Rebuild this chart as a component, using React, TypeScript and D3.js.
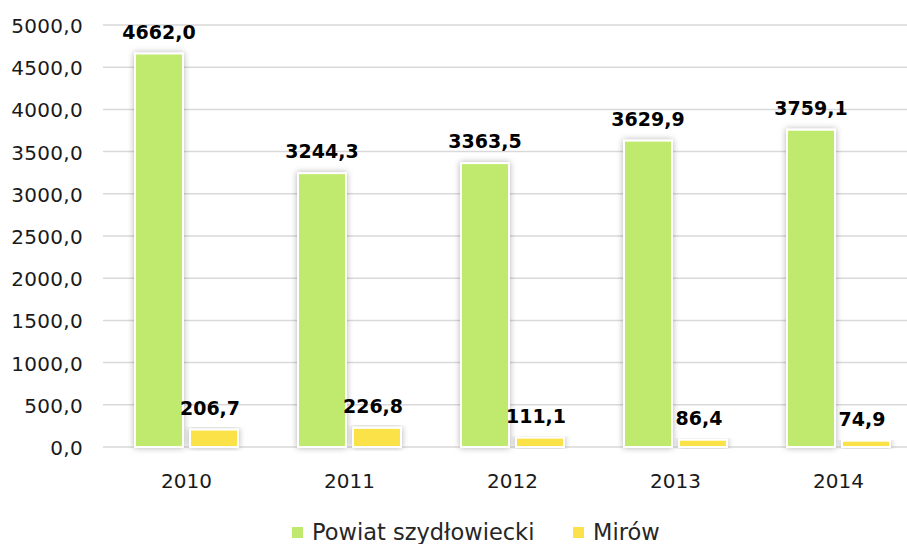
import * as d3 from 'd3';
import React, { useEffect, useRef } from 'react';

const years = ['2010', '2011', '2012', '2013', '2014'];
const powiat = [4662.0, 3244.3, 3363.5, 3629.9, 3759.1];
const mirow = [206.7, 226.8, 111.1, 86.4, 74.9];
const seriesNames = ['Powiat szydłowiecki', 'Mirów'];
const colors = ['#C0EA6E', '#FCE24A'];
const yTicks = [0, 500, 1000, 1500, 2000, 2500, 3000, 3500, 4000, 4500, 5000];

const width = 907;
const height = 544;
const font = '"DejaVu Sans", sans-serif';

const fmt = (v: number) => v.toFixed(1).replace('.', ',');

export default function App() {
  const ref = useRef<SVGSVGElement>(null);

  useEffect(() => {
    const svg = d3.select(ref.current);
    svg.selectAll('*').remove();

    const defs = svg.append('defs');
    const f = defs.append('filter').attr('id', 'shadow').attr('x', '-30%').attr('y', '-10%').attr('width', '160%').attr('height', '130%');
    f.append('feDropShadow').attr('dx', 0).attr('dy', 0).attr('stdDeviation', 3).attr('flood-color', '#000').attr('flood-opacity', 0.3);

    const x = d3.scaleBand().domain(years).range([105, 920]).paddingInner(0).paddingOuter(0);
    const y = d3.scaleLinear().domain([0, 5000]).range([447, 25]);

    // gridlines
    svg.append('g')
      .selectAll('line')
      .data(yTicks)
      .enter()
      .append('line')
      .attr('x1', 103)
      .attr('x2', width)
      .attr('y1', (d) => y(d))
      .attr('y2', (d) => y(d))
      .attr('stroke', '#D9D9D9')
      .attr('stroke-width', 1.5);

    // y labels
    svg.append('g')
      .selectAll('text')
      .data(yTicks)
      .enter()
      .append('text')
      .attr('x', 83)
      .attr('y', (d) => y(d) + 1)
      .attr('dy', '0.35em')
      .attr('text-anchor', 'end')
      .attr('font-family', font)
      .attr('font-size', 20)
      .attr('letter-spacing', 0.3)
      .attr('fill', '#1a1a1a')
      .text((d) => fmt(d));

    const barW = 48;
    const gap = 7;
    const groupW = barW * 2 + gap;
    const series = [powiat, mirow];

    series.forEach((vals, si) => {
      const g = svg.append('g');
      const bx = (i: number) => x(years[i])! + (x.bandwidth() - groupW) / 2 + si * (barW + gap);
      g.selectAll('rect')
        .data(vals)
        .enter()
        .append('rect')
        .attr('x', (d, i) => bx(i))
        .attr('y', (d) => y(d))
        .attr('width', barW)
        .attr('height', (d) => y(0) - y(d))
        .attr('fill', colors[si])
        .attr('stroke', '#fff')
        .attr('stroke-width', 2)
        .attr('filter', 'url(#shadow)');

      g.selectAll('text')
        .data(vals)
        .enter()
        .append('text')
        .attr('x', (d, i) => bx(i) + barW / 2 - (si === 1 ? 4 : 0))
        .attr('y', (d) => y(d) - 15)
        .attr('text-anchor', 'middle')
        .attr('font-family', font)
        .attr('font-weight', 'bold')
        .attr('font-size', 19)
        .attr('fill', '#000')
        .text((d) => fmt(d));
    });

    // x labels
    svg.append('g')
      .selectAll('text')
      .data(years)
      .enter()
      .append('text')
      .attr('x', (d) => x(d)! + x.bandwidth() / 2)
      .attr('y', 488)
      .attr('text-anchor', 'middle')
      .attr('font-family', font)
      .attr('font-size', 20)
      .attr('fill', '#1a1a1a')
      .text((d) => d);

    // legend
    const legendX = [292, 573];
    seriesNames.forEach((name, i) => {
      svg.append('rect')
        .attr('x', legendX[i])
        .attr('y', 527)
        .attr('width', 11)
        .attr('height', 11)
        .attr('fill', colors[i]);
      svg.append('text')
        .attr('x', legendX[i] + 20)
        .attr('y', 540)
        .attr('font-family', font)
        .attr('font-size', 22.5)
        .attr('fill', '#262626')
        .text(name);
    });
  }, []);

  return (
    <svg ref={ref} width={width} height={height} style={{ position: 'absolute', left: 0, top: 0 }} viewBox={`0 0 ${width} ${height}`}></svg>
  );
}
